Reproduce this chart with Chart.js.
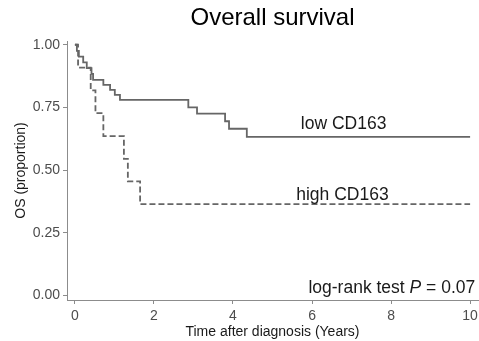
<!DOCTYPE html>
<html>
<head>
<meta charset="utf-8">
<script src="https://cdn.jsdelivr.net/npm/chart.js@4.4.1/dist/chart.umd.min.js"></script>
<style>
  html, body { margin: 0; padding: 0; background: #fff; }
  canvas { display: block; }
</style>
</head>
<body>
<canvas id="km" width="479" height="341"></canvas>
<script>
// Kaplan-Meier steps (time in years, survival proportion)
const lowTimes = [0, 0.05, 0.10, 0.21, 0.30, 0.42, 0.46, 0.72, 0.89, 1.01, 1.14, 2.87, 3.09, 3.80, 3.90, 4.35, 10]
const lowSurv = [1.00, 0.976, 0.953, 0.930, 0.907, 0.884, 0.860, 0.840, 0.820, 0.800, 0.780, 0.750, 0.725, 0.695, 0.665, 0.633, 0.633]
const highTimes = [0, 0.08, 0.40, 0.52, 0.72, 1.24, 1.34, 1.65, 10]
const highSurv = [1.00, 0.909, 0.818, 0.727, 0.636, 0.545, 0.455, 0.364, 0.364]

const xTicks = [0, 2, 4, 6, 8, 10]
const yTicks = [0, 0.25, 0.5, 0.75, 1]

const FONT = "'Liberation Sans', Arial, Helvetica, sans-serif"
const lineGrey = "#666666"
const axisGrey = "#8c8c8c"

function toPoints(times, surv) {
  return times.map((t, i) => ({ x: t, y: surv[i] }))
}

// title centred over the panel, group labels and the test result in data coordinates
const labelPlugin = {
  id: "kmLabels",
  afterDraw(chart) {
    const { ctx, scales, chartArea } = chart
    const x = scales.x
    const y = scales.y
    ctx.save()
    ctx.fillStyle = "#000"
    ctx.textAlign = "center"
    ctx.textBaseline = "middle"
    ctx.font = "24px " + FONT
    ctx.fillText("Overall survival", (chartArea.left + chartArea.right) / 2, 18)

    ctx.fillStyle = "#1a1a1a"
    ctx.textBaseline = "alphabetic"
    ctx.font = "17.5px " + FONT
    ctx.fillText("low CD163", x.getPixelForValue(6.8), y.getPixelForValue(0.665))
    ctx.fillText("high CD163", x.getPixelForValue(6.77), y.getPixelForValue(0.38))

    // log-rank test P = 0.07, with italic P
    const parts = [
      ["log-rank test ", "17.5px " + FONT],
      ["P", "italic 17.5px " + FONT],
      [" = 0.07", "17.5px " + FONT],
    ]
    let total = 0
    parts.forEach(([t, f]) => { ctx.font = f; total += ctx.measureText(t).width })
    let px = x.getPixelForValue(10.13) - total
    const py = y.getPixelForValue(0.008)
    ctx.textAlign = "left"
    parts.forEach(([t, f]) => {
      ctx.font = f
      ctx.fillText(t, px, py)
      px += ctx.measureText(t).width
    })
    ctx.restore()
  },
}

const data = {
  datasets: [
    {
      label: "low CD163",
      data: toPoints(lowTimes, lowSurv),
      stepped: true,
      borderColor: lineGrey,
      borderWidth: 1.8,
      pointRadius: 0,
      fill: false,
    },
    {
      label: "high CD163",
      data: toPoints(highTimes, highSurv),
      stepped: true,
      borderColor: lineGrey,
      borderWidth: 1.8,
      borderDash: [6, 3],
      pointRadius: 0,
      fill: false,
    },
  ],
}

const options = {
  responsive: false,
  animation: false,
  devicePixelRatio: 1,
  layout: { padding: { left: 0, right: 1, top: 41, bottom: 0 } },
  plugins: {
    legend: { display: false },
    tooltip: { enabled: false },
  },
  scales: {
    x: {
      type: "linear",
      min: -0.2,
      max: 10.2,
      afterBuildTicks: (s) => { s.ticks = xTicks.map((v) => ({ value: v })) },
      afterFit: (s) => {
        s.height = 41
        s.paddingLeft = 0
        s.paddingRight = 0
      },
      ticks: {
        color: "#4d4d4d",
        font: { family: FONT, size: 14 },
        padding: 4,
        callback: (v) => v,
      },
      grid: { drawOnChartArea: false, tickLength: 4, color: axisGrey },
      border: { color: axisGrey, width: 1 },
      title: {
        display: true,
        text: "Time after diagnosis (Years)",
        color: "#1a1a1a",
        font: { family: FONT, size: 14 },
        padding: { top: 0, bottom: 0 },
      },
    },
    y: {
      min: -0.018,
      max: 1.015,
      afterBuildTicks: (s) => { s.ticks = yTicks.map((v) => ({ value: v })) },
      afterFit: (s) => {
        s.width = 67
        s.paddingTop = 0
        s.paddingBottom = 0
      },
      ticks: {
        color: "#4d4d4d",
        font: { family: FONT, size: 14 },
        padding: 3,
        callback: (v) => Number(v).toFixed(2),
      },
      grid: { drawOnChartArea: false, tickLength: 4, color: axisGrey },
      border: { color: axisGrey, width: 1 },
      title: {
        display: true,
        text: "OS (proportion)",
        color: "#1a1a1a",
        font: { family: FONT, size: 14 },
        padding: { top: 13, bottom: 0 },
      },
    },
  },
}

new Chart(document.getElementById("km"), {
  type: "line",
  data: data,
  options: options,
  plugins: [labelPlugin],
})
</script>
</body>
</html>
